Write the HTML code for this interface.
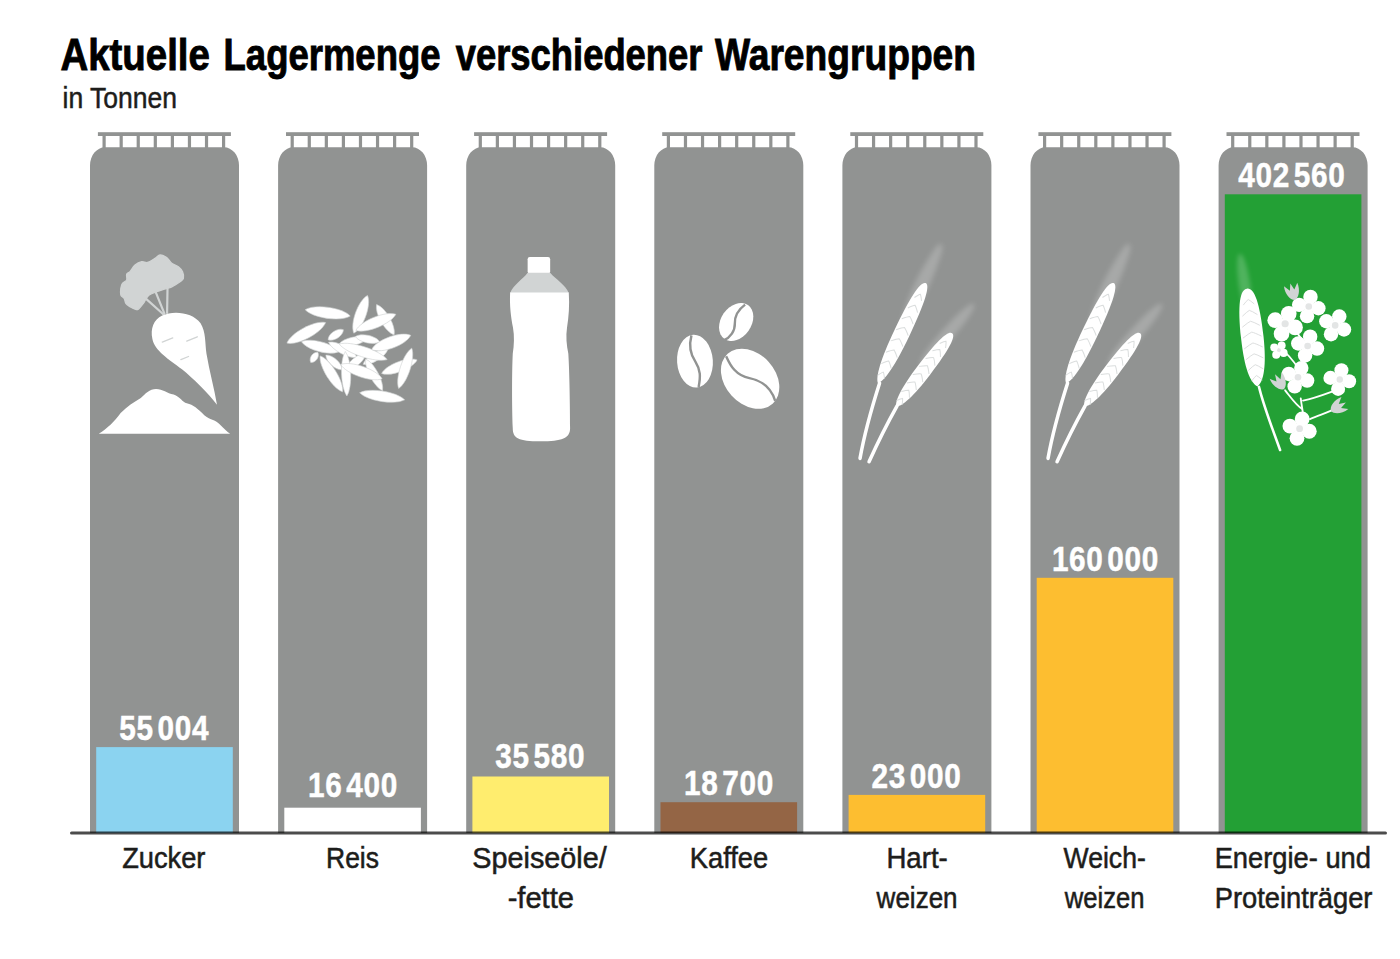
<!DOCTYPE html>
<html><head><meta charset="utf-8"><title>Lagermenge</title>
<style>html,body{margin:0;padding:0;background:#fff;width:1400px;height:959px;overflow:hidden}svg{display:block}text{font-family:"Liberation Sans",sans-serif}</style>
</head><body>
<svg width="1400" height="959" viewBox="0 0 1400 959">
<defs><filter id="blur4" x="-50%" y="-50%" width="200%" height="200%"><feGaussianBlur stdDeviation="10"/></filter></defs>
<rect width="1400" height="959" fill="#fff"/>
<path d="M90.00,833 V165.3 A15,18 0 0 1 105.00,147.3 H224.00 A15,18 0 0 1 239.00,165.3 V833 Z" fill="#919392"/>
<rect x="97.90" y="132.2" width="133" height="3.8" fill="#919392"/>
<rect x="102.50" y="133" width="3.2" height="15" fill="#919392"/>
<rect x="119.57" y="133" width="3.2" height="15" fill="#919392"/>
<rect x="136.64" y="133" width="3.2" height="15" fill="#919392"/>
<rect x="153.71" y="133" width="3.2" height="15" fill="#919392"/>
<rect x="170.78" y="133" width="3.2" height="15" fill="#919392"/>
<rect x="187.85" y="133" width="3.2" height="15" fill="#919392"/>
<rect x="204.92" y="133" width="3.2" height="15" fill="#919392"/>
<rect x="221.99" y="133" width="3.2" height="15" fill="#919392"/>
<rect x="96.20" y="747.1" width="136.6" height="85.90" fill="#8bd3f0"/>
<path d="M278.10,833 V165.3 A15,18 0 0 1 293.10,147.3 H412.10 A15,18 0 0 1 427.10,165.3 V833 Z" fill="#919392"/>
<rect x="286.00" y="132.2" width="133" height="3.8" fill="#919392"/>
<rect x="290.60" y="133" width="3.2" height="15" fill="#919392"/>
<rect x="307.67" y="133" width="3.2" height="15" fill="#919392"/>
<rect x="324.74" y="133" width="3.2" height="15" fill="#919392"/>
<rect x="341.81" y="133" width="3.2" height="15" fill="#919392"/>
<rect x="358.88" y="133" width="3.2" height="15" fill="#919392"/>
<rect x="375.95" y="133" width="3.2" height="15" fill="#919392"/>
<rect x="393.02" y="133" width="3.2" height="15" fill="#919392"/>
<rect x="410.09" y="133" width="3.2" height="15" fill="#919392"/>
<rect x="284.30" y="807.7" width="136.6" height="25.30" fill="#ffffff"/>
<path d="M466.20,833 V165.3 A15,18 0 0 1 481.20,147.3 H600.20 A15,18 0 0 1 615.20,165.3 V833 Z" fill="#919392"/>
<rect x="474.10" y="132.2" width="133" height="3.8" fill="#919392"/>
<rect x="478.70" y="133" width="3.2" height="15" fill="#919392"/>
<rect x="495.77" y="133" width="3.2" height="15" fill="#919392"/>
<rect x="512.84" y="133" width="3.2" height="15" fill="#919392"/>
<rect x="529.91" y="133" width="3.2" height="15" fill="#919392"/>
<rect x="546.98" y="133" width="3.2" height="15" fill="#919392"/>
<rect x="564.05" y="133" width="3.2" height="15" fill="#919392"/>
<rect x="581.12" y="133" width="3.2" height="15" fill="#919392"/>
<rect x="598.19" y="133" width="3.2" height="15" fill="#919392"/>
<rect x="472.40" y="776.5" width="136.6" height="56.50" fill="#ffed6e"/>
<path d="M654.30,833 V165.3 A15,18 0 0 1 669.30,147.3 H788.30 A15,18 0 0 1 803.30,165.3 V833 Z" fill="#919392"/>
<rect x="662.20" y="132.2" width="133" height="3.8" fill="#919392"/>
<rect x="666.80" y="133" width="3.2" height="15" fill="#919392"/>
<rect x="683.87" y="133" width="3.2" height="15" fill="#919392"/>
<rect x="700.94" y="133" width="3.2" height="15" fill="#919392"/>
<rect x="718.01" y="133" width="3.2" height="15" fill="#919392"/>
<rect x="735.08" y="133" width="3.2" height="15" fill="#919392"/>
<rect x="752.15" y="133" width="3.2" height="15" fill="#919392"/>
<rect x="769.22" y="133" width="3.2" height="15" fill="#919392"/>
<rect x="786.29" y="133" width="3.2" height="15" fill="#919392"/>
<rect x="660.50" y="802.2" width="136.6" height="30.80" fill="#946545"/>
<path d="M842.40,833 V165.3 A15,18 0 0 1 857.40,147.3 H976.40 A15,18 0 0 1 991.40,165.3 V833 Z" fill="#919392"/>
<rect x="850.30" y="132.2" width="133" height="3.8" fill="#919392"/>
<rect x="854.90" y="133" width="3.2" height="15" fill="#919392"/>
<rect x="871.97" y="133" width="3.2" height="15" fill="#919392"/>
<rect x="889.04" y="133" width="3.2" height="15" fill="#919392"/>
<rect x="906.11" y="133" width="3.2" height="15" fill="#919392"/>
<rect x="923.18" y="133" width="3.2" height="15" fill="#919392"/>
<rect x="940.25" y="133" width="3.2" height="15" fill="#919392"/>
<rect x="957.32" y="133" width="3.2" height="15" fill="#919392"/>
<rect x="974.39" y="133" width="3.2" height="15" fill="#919392"/>
<rect x="848.60" y="794.9" width="136.6" height="38.10" fill="#fdbe30"/>
<path d="M1030.50,833 V165.3 A15,18 0 0 1 1045.50,147.3 H1164.50 A15,18 0 0 1 1179.50,165.3 V833 Z" fill="#919392"/>
<rect x="1038.40" y="132.2" width="133" height="3.8" fill="#919392"/>
<rect x="1043.00" y="133" width="3.2" height="15" fill="#919392"/>
<rect x="1060.07" y="133" width="3.2" height="15" fill="#919392"/>
<rect x="1077.14" y="133" width="3.2" height="15" fill="#919392"/>
<rect x="1094.21" y="133" width="3.2" height="15" fill="#919392"/>
<rect x="1111.28" y="133" width="3.2" height="15" fill="#919392"/>
<rect x="1128.35" y="133" width="3.2" height="15" fill="#919392"/>
<rect x="1145.42" y="133" width="3.2" height="15" fill="#919392"/>
<rect x="1162.49" y="133" width="3.2" height="15" fill="#919392"/>
<rect x="1036.70" y="577.8" width="136.6" height="255.20" fill="#fdbe30"/>
<path d="M1218.60,833 V165.3 A15,18 0 0 1 1233.60,147.3 H1352.60 A15,18 0 0 1 1367.60,165.3 V833 Z" fill="#919392"/>
<rect x="1226.50" y="132.2" width="133" height="3.8" fill="#919392"/>
<rect x="1231.10" y="133" width="3.2" height="15" fill="#919392"/>
<rect x="1248.17" y="133" width="3.2" height="15" fill="#919392"/>
<rect x="1265.24" y="133" width="3.2" height="15" fill="#919392"/>
<rect x="1282.31" y="133" width="3.2" height="15" fill="#919392"/>
<rect x="1299.38" y="133" width="3.2" height="15" fill="#919392"/>
<rect x="1316.45" y="133" width="3.2" height="15" fill="#919392"/>
<rect x="1333.52" y="133" width="3.2" height="15" fill="#919392"/>
<rect x="1350.59" y="133" width="3.2" height="15" fill="#919392"/>
<rect x="1224.80" y="194.3" width="136.6" height="638.70" fill="#23a035"/>
<g transform="translate(90,240) scale(0.21896)">
<path d="M140.8,220.9 C142.1,212.0 144.0,204.3 148.4,198.0 C152.8,191.7 164.3,189.8 167.5,182.8 C170.7,175.8 165.0,162.4 167.5,156.1 C170.0,149.8 176.3,151.7 182.7,144.7 C189.0,137.7 196.7,121.8 205.6,114.2 C214.5,106.6 226.5,100.9 236.0,99.0 C245.5,97.1 252.5,105.3 262.7,102.8 C272.9,100.2 287.5,89.4 297.0,83.7 C306.5,78.0 310.9,69.1 319.8,68.5 C328.7,67.9 341.4,73.6 350.3,79.9 C359.2,86.2 364.3,99.6 373.2,106.6 C382.1,113.6 395.4,115.5 403.6,121.8 C411.9,128.2 418.9,135.8 422.7,144.7 C426.5,153.6 428.4,167.6 426.5,175.2 C424.6,182.8 418.8,184.7 411.2,190.4 C403.6,196.1 388.4,205.0 380.8,209.4 C373.2,213.8 372.5,214.6 365.5,217.1 C358.5,219.6 349.0,221.5 338.9,224.7 C328.8,227.9 316.0,231.7 304.6,236.1 C293.2,240.5 278.6,245.6 270.3,251.3 C262.1,257.0 259.5,264.0 255.1,270.4 C250.7,276.8 249.4,281.8 243.7,289.4 C238.0,297.0 227.2,311.7 220.8,316.1 C214.5,320.6 211.9,318.0 205.6,316.1 C199.2,314.2 189.7,309.1 182.7,304.7 C175.7,300.2 168.1,295.8 163.7,289.4 C159.3,283.0 159.9,273.0 156.1,266.6 C152.3,260.2 143.4,258.9 140.8,251.3 C138.2,243.7 139.5,229.8 140.8,220.9 Z" fill="#d1d4d4" stroke="#d1d4d4" stroke-width="6" stroke-linejoin="round"/>
<line x1="255" y1="268" x2="336" y2="340" stroke="#d1d4d4" stroke-width="10" stroke-linecap="round"/>
<line x1="301" y1="240" x2="340" y2="336" stroke="#d1d4d4" stroke-width="10" stroke-linecap="round"/>
<line x1="354" y1="222" x2="352" y2="333" stroke="#d1d4d4" stroke-width="10" stroke-linecap="round"/>
<path d="M330,345 C380,320 470,330 505,380 C530,420 525,470 532,520 C545,600 568,680 580,752 C540,700 470,630 420,590 C360,545 295,505 285,452 C275,405 290,365 330,345 Z" fill="#fff"/>
<line x1="330" y1="466" x2="378" y2="447" stroke="#d1d4d4" stroke-width="6" stroke-linecap="round"/>
<line x1="442" y1="462" x2="490" y2="442" stroke="#d1d4d4" stroke-width="6" stroke-linecap="round"/>
<line x1="415" y1="546" x2="450" y2="532" stroke="#d1d4d4" stroke-width="6" stroke-linecap="round"/>
<path d="M40,885 C80,860 110,830 140,790 C170,760 200,742 232,722 C252,702 272,680 302,680 C332,680 352,700 382,706 C412,716 422,742 442,746 C472,752 492,772 522,800 C547,822 572,818 592,842 C612,862 625,875 640,885 Z" fill="#fff"/>
</g>
<g transform="translate(280,280) scale(0.14592)">
<path d="M-150.0,0 C-93.0,-50.4 93.0,-50.4 150.0,0 C93.0,50.4 -93.0,50.4 -150.0,0 Z" transform="translate(180,362) rotate(-28)" fill="#fff" stroke="#d1d4d4" stroke-width="4"/>
<path d="M-156.0,0 C-96.7,-50.4 96.7,-50.4 156.0,0 C96.7,50.4 -96.7,50.4 -156.0,0 Z" transform="translate(327,225) rotate(8)" fill="#fff" stroke="#d1d4d4" stroke-width="4"/>
<path d="M-120.0,0 C-74.4,-43.2 74.4,-43.2 120.0,0 C74.4,43.2 -74.4,43.2 -120.0,0 Z" transform="translate(722,272) rotate(60)" fill="#fff" stroke="#d1d4d4" stroke-width="4"/>
<path d="M-137.5,0 C-85.2,-49.2 85.2,-49.2 137.5,0 C85.2,49.2 -85.2,49.2 -137.5,0 Z" transform="translate(553,235) rotate(-70)" fill="#fff" stroke="#d1d4d4" stroke-width="4"/>
<path d="M-147.5,0 C-91.5,-49.2 91.5,-49.2 147.5,0 C91.5,49.2 -91.5,49.2 -147.5,0 Z" transform="translate(657,290) rotate(-22)" fill="#fff" stroke="#d1d4d4" stroke-width="4"/>
<path d="M-62.5,0 C-38.8,-34.8 38.8,-34.8 62.5,0 C38.8,34.8 -38.8,34.8 -62.5,0 Z" transform="translate(382,375) rotate(-33)" fill="#fff" stroke="#d1d4d4" stroke-width="4"/>
<path d="M-132.5,0 C-82.2,-45.6 82.2,-45.6 132.5,0 C82.2,45.6 -82.2,45.6 -132.5,0 Z" transform="translate(275,457) rotate(15)" fill="#fff" stroke="#d1d4d4" stroke-width="4"/>
<path d="M-42.5,0 C-26.4,-30.0 26.4,-30.0 42.5,0 C26.4,30.0 -26.4,30.0 -42.5,0 Z" transform="translate(235,530) rotate(-55)" fill="#fff" stroke="#d1d4d4" stroke-width="4"/>
<path d="M-100.0,0 C-62.0,-37.2 62.0,-37.2 100.0,0 C62.0,37.2 -62.0,37.2 -100.0,0 Z" transform="translate(500,420) rotate(-12)" fill="#fff" stroke="#d1d4d4" stroke-width="4"/>
<path d="M-85.0,0 C-52.7,-34.8 52.7,-34.8 85.0,0 C52.7,34.8 -52.7,34.8 -85.0,0 Z" transform="translate(600,405) rotate(12)" fill="#fff" stroke="#d1d4d4" stroke-width="4"/>
<path d="M-110.0,0 C-68.2,-37.2 68.2,-37.2 110.0,0 C68.2,37.2 -68.2,37.2 -110.0,0 Z" transform="translate(430,478) rotate(28)" fill="#fff" stroke="#d1d4d4" stroke-width="4"/>
<path d="M-100.0,0 C-62.0,-37.2 62.0,-37.2 100.0,0 C62.0,37.2 -62.0,37.2 -100.0,0 Z" transform="translate(655,525) rotate(-32)" fill="#fff" stroke="#d1d4d4" stroke-width="4"/>
<path d="M-75.0,0 C-46.5,-33.6 46.5,-33.6 75.0,0 C46.5,33.6 -46.5,33.6 -75.0,0 Z" transform="translate(370,565) rotate(42)" fill="#fff" stroke="#d1d4d4" stroke-width="4"/>
<path d="M-90.0,0 C-55.8,-36.0 55.8,-36.0 90.0,0 C55.8,36.0 -55.8,36.0 -90.0,0 Z" transform="translate(520,560) rotate(-40)" fill="#fff" stroke="#d1d4d4" stroke-width="4"/>
<path d="M-172.5,0 C-107.0,-46.8 107.0,-46.8 172.5,0 C107.0,46.8 -107.0,46.8 -172.5,0 Z" transform="translate(570,492) rotate(18)" fill="#fff" stroke="#d1d4d4" stroke-width="4"/>
<path d="M-142.5,0 C-88.3,-52.8 88.3,-52.8 142.5,0 C88.3,52.8 -88.3,52.8 -142.5,0 Z" transform="translate(762,428) rotate(-20)" fill="#fff" stroke="#d1d4d4" stroke-width="4"/>
<path d="M-145.0,0 C-89.9,-46.8 89.9,-46.8 145.0,0 C89.9,46.8 -89.9,46.8 -145.0,0 Z" transform="translate(352,643) rotate(58)" fill="#fff" stroke="#d1d4d4" stroke-width="4"/>
<path d="M-152.5,0 C-94.5,-42.0 94.5,-42.0 152.5,0 C94.5,42.0 -94.5,42.0 -152.5,0 Z" transform="translate(453,642) rotate(88)" fill="#fff" stroke="#d1d4d4" stroke-width="4"/>
<path d="M-122.5,0 C-76.0,-39.6 76.0,-39.6 122.5,0 C76.0,39.6 -76.0,39.6 -122.5,0 Z" transform="translate(645,650) rotate(62)" fill="#fff" stroke="#d1d4d4" stroke-width="4"/>
<path d="M-150.0,0 C-93.0,-49.2 93.0,-49.2 150.0,0 C93.0,49.2 -93.0,49.2 -150.0,0 Z" transform="translate(558,628) rotate(19)" fill="#fff" stroke="#d1d4d4" stroke-width="4"/>
<path d="M-130.0,0 C-80.6,-45.6 80.6,-45.6 130.0,0 C80.6,45.6 -80.6,45.6 -130.0,0 Z" transform="translate(818,594) rotate(-21)" fill="#fff" stroke="#d1d4d4" stroke-width="4"/>
<path d="M-145.0,0 C-89.9,-45.6 89.9,-45.6 145.0,0 C89.9,45.6 -89.9,45.6 -145.0,0 Z" transform="translate(858,605) rotate(-72)" fill="#fff" stroke="#d1d4d4" stroke-width="4"/>
<path d="M-156.0,0 C-96.7,-48.0 96.7,-48.0 156.0,0 C96.7,48.0 -96.7,48.0 -156.0,0 Z" transform="translate(700,797) rotate(9)" fill="#fff" stroke="#d1d4d4" stroke-width="4"/>
</g>
<g transform="translate(490,240) scale(0.21882)">
<rect x="172" y="78" width="103" height="76" rx="10" fill="#fff"/>
<path d="M172,150 H275 C300,180 345,205 360,242 H92 C107,205 150,180 172,150 Z" fill="#d1d4d4"/>
<path d="M92,240 H360 C364,300 360,350 352,400 C346,440 350,480 358,520 C363,600 366,750 366,860 C366,905 330,920 230,920 C130,920 104,905 104,860 C100,750 100,600 104,520 C110,480 112,440 105,400 C95,350 89,300 92,240 Z" fill="#fff"/>
</g>
<g transform="translate(660,290) scale(0.13552)">
<ellipse cx="0" cy="0" rx="112" ry="152" transform="translate(562,236) rotate(35)" fill="#fff"/>
<path d="M628,108 C570,150 550,200 552,250 C554,300 520,350 470,372" fill="none" stroke="#919392" stroke-width="18"/>
<ellipse cx="0" cy="0" rx="132" ry="195" transform="translate(258,525) rotate(-4)" fill="#fff"/>
<path d="M232,335 C215,400 220,470 262,530 C300,590 300,640 285,715" fill="none" stroke="#919392" stroke-width="18"/>
<ellipse cx="0" cy="0" rx="185" ry="248" transform="translate(665,655) rotate(-42)" fill="#fff"/>
<path d="M488,488 C520,560 560,630 660,650 C760,670 820,720 850,818" fill="none" stroke="#919392" stroke-width="18"/>
</g>
<g transform="translate(845,230) scale(0.25044)">
<g transform="translate(230,380) rotate(-64.50)" opacity="0.2" filter="url(#blur4)"><ellipse cx="180.0" cy="0" rx="180.0" ry="27.5" fill="#fff"/></g>
<g transform="translate(300,540) rotate(-48.73)" opacity="0.2" filter="url(#blur4)"><ellipse cx="163.0" cy="0" rx="163.0" ry="25.0" fill="#fff"/></g>
<path d="M138,612 C110,700 80,800 60,912" fill="none" stroke="#fff" stroke-width="14" stroke-linecap="round"/>
<path d="M208,702 C170,770 130,850 96,925" fill="none" stroke="#fff" stroke-width="14" stroke-linecap="round"/>
<g transform="translate(132,612) rotate(-64.59)"><path d="M0,0 C17.7,-19.2 88.6,-32.0 221.4,-32.0 C376.4,-32.0 442.8,-20.5 442.8,0 C442.8,20.5 376.4,32.0 221.4,32.0 C88.6,32.0 17.7,19.2 0,0 Z" fill="#fff"/><path d="M27.2,-15.7 Q45.2,-4.7 49.2,0 Q45.2,4.7 27.2,15.7" fill="none" stroke="#d1d4d4" stroke-width="4" opacity="0.8"/><path d="M76.4,-21.6 Q94.4,-6.5 98.4,0 Q94.4,6.5 76.4,21.6" fill="none" stroke="#d1d4d4" stroke-width="4" opacity="0.8"/><path d="M125.6,-25.0 Q143.6,-7.5 147.6,0 Q143.6,7.5 125.6,25.0" fill="none" stroke="#d1d4d4" stroke-width="4" opacity="0.8"/><path d="M174.8,-26.7 Q192.8,-8.0 196.8,0 Q192.8,8.0 174.8,26.7" fill="none" stroke="#d1d4d4" stroke-width="4" opacity="0.8"/><path d="M224.0,-26.7 Q242.0,-8.0 246.0,0 Q242.0,8.0 224.0,26.7" fill="none" stroke="#d1d4d4" stroke-width="4" opacity="0.8"/><path d="M273.2,-25.0 Q291.2,-7.5 295.2,0 Q291.2,7.5 273.2,25.0" fill="none" stroke="#d1d4d4" stroke-width="4" opacity="0.8"/><path d="M322.4,-21.6 Q340.4,-6.5 344.4,0 Q340.4,6.5 322.4,21.6" fill="none" stroke="#d1d4d4" stroke-width="4" opacity="0.8"/><path d="M371.6,-15.7 Q389.6,-4.7 393.6,0 Q389.6,4.7 371.6,15.7" fill="none" stroke="#d1d4d4" stroke-width="4" opacity="0.8"/></g>
<g transform="translate(205,705) rotate(-52.73)"><path d="M0,0 C14.7,-18.0 73.6,-30.0 184.1,-30.0 C313.0,-30.0 368.2,-19.2 368.2,0 C368.2,19.2 313.0,30.0 184.1,30.0 C73.6,30.0 14.7,18.0 0,0 Z" fill="#fff"/><path d="M18.9,-14.7 Q36.9,-4.4 40.9,0 Q36.9,4.4 18.9,14.7" fill="none" stroke="#d1d4d4" stroke-width="4" opacity="0.8"/><path d="M59.8,-20.2 Q77.8,-6.1 81.8,0 Q77.8,6.1 59.8,20.2" fill="none" stroke="#d1d4d4" stroke-width="4" opacity="0.8"/><path d="M100.7,-23.5 Q118.7,-7.0 122.7,0 Q118.7,7.0 100.7,23.5" fill="none" stroke="#d1d4d4" stroke-width="4" opacity="0.8"/><path d="M141.6,-25.0 Q159.6,-7.5 163.6,0 Q159.6,7.5 141.6,25.0" fill="none" stroke="#d1d4d4" stroke-width="4" opacity="0.8"/><path d="M182.6,-25.0 Q200.6,-7.5 204.6,0 Q200.6,7.5 182.6,25.0" fill="none" stroke="#d1d4d4" stroke-width="4" opacity="0.8"/><path d="M223.5,-23.5 Q241.5,-7.0 245.5,0 Q241.5,7.0 223.5,23.5" fill="none" stroke="#d1d4d4" stroke-width="4" opacity="0.8"/><path d="M264.4,-20.2 Q282.4,-6.1 286.4,0 Q282.4,6.1 264.4,20.2" fill="none" stroke="#d1d4d4" stroke-width="4" opacity="0.8"/><path d="M305.3,-14.7 Q323.3,-4.4 327.3,0 Q323.3,4.4 305.3,14.7" fill="none" stroke="#d1d4d4" stroke-width="4" opacity="0.8"/></g>
</g>
<g transform="translate(1033,230) scale(0.25044)">
<g transform="translate(230,380) rotate(-64.50)" opacity="0.2" filter="url(#blur4)"><ellipse cx="180.0" cy="0" rx="180.0" ry="27.5" fill="#fff"/></g>
<g transform="translate(300,540) rotate(-48.73)" opacity="0.2" filter="url(#blur4)"><ellipse cx="163.0" cy="0" rx="163.0" ry="25.0" fill="#fff"/></g>
<path d="M138,612 C110,700 80,800 60,912" fill="none" stroke="#fff" stroke-width="14" stroke-linecap="round"/>
<path d="M208,702 C170,770 130,850 96,925" fill="none" stroke="#fff" stroke-width="14" stroke-linecap="round"/>
<g transform="translate(132,612) rotate(-64.59)"><path d="M0,0 C17.7,-19.2 88.6,-32.0 221.4,-32.0 C376.4,-32.0 442.8,-20.5 442.8,0 C442.8,20.5 376.4,32.0 221.4,32.0 C88.6,32.0 17.7,19.2 0,0 Z" fill="#fff"/><path d="M27.2,-15.7 Q45.2,-4.7 49.2,0 Q45.2,4.7 27.2,15.7" fill="none" stroke="#d1d4d4" stroke-width="4" opacity="0.8"/><path d="M76.4,-21.6 Q94.4,-6.5 98.4,0 Q94.4,6.5 76.4,21.6" fill="none" stroke="#d1d4d4" stroke-width="4" opacity="0.8"/><path d="M125.6,-25.0 Q143.6,-7.5 147.6,0 Q143.6,7.5 125.6,25.0" fill="none" stroke="#d1d4d4" stroke-width="4" opacity="0.8"/><path d="M174.8,-26.7 Q192.8,-8.0 196.8,0 Q192.8,8.0 174.8,26.7" fill="none" stroke="#d1d4d4" stroke-width="4" opacity="0.8"/><path d="M224.0,-26.7 Q242.0,-8.0 246.0,0 Q242.0,8.0 224.0,26.7" fill="none" stroke="#d1d4d4" stroke-width="4" opacity="0.8"/><path d="M273.2,-25.0 Q291.2,-7.5 295.2,0 Q291.2,7.5 273.2,25.0" fill="none" stroke="#d1d4d4" stroke-width="4" opacity="0.8"/><path d="M322.4,-21.6 Q340.4,-6.5 344.4,0 Q340.4,6.5 322.4,21.6" fill="none" stroke="#d1d4d4" stroke-width="4" opacity="0.8"/><path d="M371.6,-15.7 Q389.6,-4.7 393.6,0 Q389.6,4.7 371.6,15.7" fill="none" stroke="#d1d4d4" stroke-width="4" opacity="0.8"/></g>
<g transform="translate(205,705) rotate(-52.73)"><path d="M0,0 C14.7,-18.0 73.6,-30.0 184.1,-30.0 C313.0,-30.0 368.2,-19.2 368.2,0 C368.2,19.2 313.0,30.0 184.1,30.0 C73.6,30.0 14.7,18.0 0,0 Z" fill="#fff"/><path d="M18.9,-14.7 Q36.9,-4.4 40.9,0 Q36.9,4.4 18.9,14.7" fill="none" stroke="#d1d4d4" stroke-width="4" opacity="0.8"/><path d="M59.8,-20.2 Q77.8,-6.1 81.8,0 Q77.8,6.1 59.8,20.2" fill="none" stroke="#d1d4d4" stroke-width="4" opacity="0.8"/><path d="M100.7,-23.5 Q118.7,-7.0 122.7,0 Q118.7,7.0 100.7,23.5" fill="none" stroke="#d1d4d4" stroke-width="4" opacity="0.8"/><path d="M141.6,-25.0 Q159.6,-7.5 163.6,0 Q159.6,7.5 141.6,25.0" fill="none" stroke="#d1d4d4" stroke-width="4" opacity="0.8"/><path d="M182.6,-25.0 Q200.6,-7.5 204.6,0 Q200.6,7.5 182.6,25.0" fill="none" stroke="#d1d4d4" stroke-width="4" opacity="0.8"/><path d="M223.5,-23.5 Q241.5,-7.0 245.5,0 Q241.5,7.0 223.5,23.5" fill="none" stroke="#d1d4d4" stroke-width="4" opacity="0.8"/><path d="M264.4,-20.2 Q282.4,-6.1 286.4,0 Q282.4,6.1 264.4,20.2" fill="none" stroke="#d1d4d4" stroke-width="4" opacity="0.8"/><path d="M305.3,-14.7 Q323.3,-4.4 327.3,0 Q323.3,4.4 305.3,14.7" fill="none" stroke="#d1d4d4" stroke-width="4" opacity="0.8"/></g>
</g>
<g transform="translate(1225,240) scale(0.22952)">
<g transform="translate(105,330) rotate(-98.43)" opacity="0.2" filter="url(#blur4)"><ellipse cx="136.5" cy="0" rx="136.5" ry="25.0" fill="#fff"/></g>
<path d="M148,640 C170,730 210,830 240,915" fill="none" stroke="#fff" stroke-width="11" stroke-linecap="round"/>
<g transform="translate(142,638) rotate(-96.16)"><path d="M0,0 C17.1,-29.4 85.7,-49.0 214.2,-49.0 C364.2,-49.0 428.5,-31.4 428.5,0 C428.5,31.4 364.2,49.0 214.2,49.0 C85.7,49.0 17.1,29.4 0,0 Z" fill="#fff"/><path d="M25.6,-24.1 Q43.6,-7.2 47.6,0 Q43.6,7.2 25.6,24.1" fill="none" stroke="#d1d4d4" stroke-width="4" opacity="0.8"/><path d="M73.2,-33.0 Q91.2,-9.9 95.2,0 Q91.2,9.9 73.2,33.0" fill="none" stroke="#d1d4d4" stroke-width="4" opacity="0.8"/><path d="M120.8,-38.3 Q138.8,-11.5 142.8,0 Q138.8,11.5 120.8,38.3" fill="none" stroke="#d1d4d4" stroke-width="4" opacity="0.8"/><path d="M168.4,-40.8 Q186.4,-12.3 190.4,0 Q186.4,12.3 168.4,40.8" fill="none" stroke="#d1d4d4" stroke-width="4" opacity="0.8"/><path d="M216.0,-40.8 Q234.0,-12.3 238.0,0 Q234.0,12.3 216.0,40.8" fill="none" stroke="#d1d4d4" stroke-width="4" opacity="0.8"/><path d="M263.7,-38.3 Q281.7,-11.5 285.7,0 Q281.7,11.5 263.7,38.3" fill="none" stroke="#d1d4d4" stroke-width="4" opacity="0.8"/><path d="M311.3,-33.0 Q329.3,-9.9 333.3,0 Q329.3,9.9 311.3,33.0" fill="none" stroke="#d1d4d4" stroke-width="4" opacity="0.8"/><path d="M358.9,-24.1 Q376.9,-7.2 380.9,0 Q376.9,7.2 358.9,24.1" fill="none" stroke="#d1d4d4" stroke-width="4" opacity="0.8"/></g>
<path d="M330,690 C335,730 342,760 345,800" fill="none" stroke="#fff" stroke-width="8" stroke-linecap="round"/>
<path d="M262,655 C290,690 310,720 335,735" fill="none" stroke="#fff" stroke-width="8" stroke-linecap="round"/>
<path d="M340,700 C390,690 440,670 495,650" fill="none" stroke="#fff" stroke-width="8" stroke-linecap="round"/>
<path d="M370,780 C420,760 460,745 495,730" fill="none" stroke="#fff" stroke-width="8" stroke-linecap="round"/>
<path d="M240,470 C280,500 300,530 320,560" fill="none" stroke="#fff" stroke-width="8" stroke-linecap="round"/>
<path d="M300,380 C320,420 340,440 360,460" fill="none" stroke="#fff" stroke-width="8" stroke-linecap="round"/>
<circle cx="305.2" cy="380.7" r="34.1" fill="#fff"/><circle cx="283.6" cy="372.9" r="18.4" fill="#fff"/><circle cx="246.3" cy="408.2" r="34.1" fill="#fff"/><circle cx="254.1" cy="386.6" r="18.4" fill="#fff"/><circle cx="218.8" cy="349.3" r="34.1" fill="#fff"/><circle cx="240.4" cy="357.1" r="18.4" fill="#fff"/><circle cx="277.7" cy="321.8" r="34.1" fill="#fff"/><circle cx="269.9" cy="343.4" r="18.4" fill="#fff"/><circle cx="262" cy="365" r="15.6" fill="#e3e5e5"/>
<circle cx="406.8" cy="297.4" r="31.4" fill="#fff"/><circle cx="385.9" cy="293.7" r="17.0" fill="#fff"/><circle cx="357.6" cy="331.8" r="31.4" fill="#fff"/><circle cx="361.3" cy="310.9" r="17.0" fill="#fff"/><circle cx="323.2" cy="282.6" r="31.4" fill="#fff"/><circle cx="344.1" cy="286.3" r="17.0" fill="#fff"/><circle cx="372.4" cy="248.2" r="31.4" fill="#fff"/><circle cx="368.7" cy="269.1" r="17.0" fill="#fff"/><circle cx="365" cy="290" r="14.4" fill="#e3e5e5"/>
<circle cx="518.5" cy="390.0" r="31.4" fill="#fff"/><circle cx="499.2" cy="381.0" r="17.0" fill="#fff"/><circle cx="462.0" cy="410.5" r="31.4" fill="#fff"/><circle cx="471.0" cy="391.2" r="17.0" fill="#fff"/><circle cx="441.5" cy="354.0" r="31.4" fill="#fff"/><circle cx="460.8" cy="363.0" r="17.0" fill="#fff"/><circle cx="498.0" cy="333.5" r="31.4" fill="#fff"/><circle cx="489.0" cy="352.8" r="17.0" fill="#fff"/><circle cx="480" cy="372" r="14.4" fill="#e3e5e5"/>
<circle cx="401.0" cy="473.0" r="31.4" fill="#fff"/><circle cx="380.5" cy="467.5" r="17.0" fill="#fff"/><circle cx="349.0" cy="503.0" r="31.4" fill="#fff"/><circle cx="354.5" cy="482.5" r="17.0" fill="#fff"/><circle cx="319.0" cy="451.0" r="31.4" fill="#fff"/><circle cx="339.5" cy="456.5" r="17.0" fill="#fff"/><circle cx="371.0" cy="421.0" r="31.4" fill="#fff"/><circle cx="365.5" cy="441.5" r="17.0" fill="#fff"/><circle cx="360" cy="462" r="14.4" fill="#e3e5e5"/>
<circle cx="357.9" cy="612.5" r="31.4" fill="#fff"/><circle cx="338.0" cy="605.3" r="17.0" fill="#fff"/><circle cx="303.5" cy="637.9" r="31.4" fill="#fff"/><circle cx="310.7" cy="618.0" r="17.0" fill="#fff"/><circle cx="278.1" cy="583.5" r="31.4" fill="#fff"/><circle cx="298.0" cy="590.7" r="17.0" fill="#fff"/><circle cx="332.5" cy="558.1" r="31.4" fill="#fff"/><circle cx="325.3" cy="578.0" r="17.0" fill="#fff"/><circle cx="318" cy="598" r="14.4" fill="#e3e5e5"/>
<circle cx="540.7" cy="615.2" r="30.6" fill="#fff"/><circle cx="520.3" cy="611.6" r="16.5" fill="#fff"/><circle cx="492.8" cy="648.7" r="30.6" fill="#fff"/><circle cx="496.4" cy="628.3" r="16.5" fill="#fff"/><circle cx="459.3" cy="600.8" r="30.6" fill="#fff"/><circle cx="479.7" cy="604.4" r="16.5" fill="#fff"/><circle cx="507.2" cy="567.3" r="30.6" fill="#fff"/><circle cx="503.6" cy="587.7" r="16.5" fill="#fff"/><circle cx="500" cy="608" r="14.0" fill="#e3e5e5"/>
<circle cx="367.2" cy="833.3" r="32.3" fill="#fff"/><circle cx="346.1" cy="827.7" r="17.5" fill="#fff"/><circle cx="313.7" cy="864.2" r="32.3" fill="#fff"/><circle cx="319.3" cy="843.1" r="17.5" fill="#fff"/><circle cx="282.8" cy="810.7" r="32.3" fill="#fff"/><circle cx="303.9" cy="816.3" r="17.5" fill="#fff"/><circle cx="336.3" cy="779.8" r="32.3" fill="#fff"/><circle cx="330.7" cy="800.9" r="17.5" fill="#fff"/><circle cx="325" cy="822" r="14.8" fill="#e3e5e5"/>
<circle cx="255.4" cy="491.8" r="17.5" fill="#fff"/><circle cx="245.2" cy="485.9" r="9.4" fill="#fff"/><circle cx="223.2" cy="500.4" r="17.5" fill="#fff"/><circle cx="229.1" cy="490.2" r="9.4" fill="#fff"/><circle cx="214.6" cy="468.2" r="17.5" fill="#fff"/><circle cx="224.8" cy="474.1" r="9.4" fill="#fff"/><circle cx="246.8" cy="459.6" r="17.5" fill="#fff"/><circle cx="240.9" cy="469.8" r="9.4" fill="#fff"/><circle cx="235" cy="480" r="8.0" fill="#e3e5e5"/>
<g transform="translate(295,228) rotate(-15) scale(1)"><path d="M-30,-35 L-10,-10 L0,-40 L10,-10 L30,-35 C35,0 20,30 0,35 C-20,30 -35,0 -30,-35 Z" fill="#d1d4d4"/></g>
<g transform="translate(238,620) rotate(-30) scale(1)"><path d="M-30,-35 L-10,-10 L0,-40 L10,-10 L30,-35 C35,0 20,30 0,35 C-20,30 -35,0 -30,-35 Z" fill="#d1d4d4"/></g>
<g transform="translate(492,728) rotate(60) scale(1)"><path d="M-30,-35 L-10,-10 L0,-40 L10,-10 L30,-35 C35,0 20,30 0,35 C-20,30 -35,0 -30,-35 Z" fill="#d1d4d4"/></g>
</g>
<line x1="71.5" y1="833.1" x2="1385.5" y2="833.1" stroke="rgba(0,0,0,0.7)" stroke-width="3" stroke-linecap="round"/>
<text x="135.15" y="70" text-anchor="middle" font-family="Liberation Sans" font-weight="bold" font-size="43.5" fill="#000" stroke="#000" stroke-width="0.9" textLength="149.4" lengthAdjust="spacingAndGlyphs">Aktuelle</text>
<text x="332.05" y="70" text-anchor="middle" font-family="Liberation Sans" font-weight="bold" font-size="43.5" fill="#000" stroke="#000" stroke-width="0.9" textLength="217.0" lengthAdjust="spacingAndGlyphs">Lagermenge</text>
<text x="579.10" y="70" text-anchor="middle" font-family="Liberation Sans" font-weight="bold" font-size="43.5" fill="#000" stroke="#000" stroke-width="0.9" textLength="246.8" lengthAdjust="spacingAndGlyphs">verschiedener</text>
<text x="845.50" y="70" text-anchor="middle" font-family="Liberation Sans" font-weight="bold" font-size="43.5" fill="#000" stroke="#000" stroke-width="0.9" textLength="261.0" lengthAdjust="spacingAndGlyphs">Warengruppen</text>
<text x="62.5" y="108" font-family="Liberation Sans" font-size="30" fill="#1d1d1b" stroke="#1d1d1b" stroke-width="0.5" textLength="114.5" lengthAdjust="spacingAndGlyphs">in Tonnen</text>
<text transform="translate(164.30,739.70) scale(0.85,1)" text-anchor="middle" letter-spacing="0.8" font-family="Liberation Sans" font-weight="bold" font-size="35" fill="#fff" stroke="#fff" stroke-width="0.5">55<tspan dx="4.5">004</tspan></text>
<text transform="translate(353.00,797.40) scale(0.85,1)" text-anchor="middle" letter-spacing="0.8" font-family="Liberation Sans" font-weight="bold" font-size="35" fill="#fff" stroke="#fff" stroke-width="0.5">16<tspan dx="4.5">400</tspan></text>
<text transform="translate(540.25,767.80) scale(0.85,1)" text-anchor="middle" letter-spacing="0.8" font-family="Liberation Sans" font-weight="bold" font-size="35" fill="#fff" stroke="#fff" stroke-width="0.5">35<tspan dx="4.5">580</tspan></text>
<text transform="translate(729.05,794.90) scale(0.85,1)" text-anchor="middle" letter-spacing="0.8" font-family="Liberation Sans" font-weight="bold" font-size="35" fill="#fff" stroke="#fff" stroke-width="0.5">18<tspan dx="4.5">700</tspan></text>
<text transform="translate(916.45,787.80) scale(0.85,1)" text-anchor="middle" letter-spacing="0.8" font-family="Liberation Sans" font-weight="bold" font-size="35" fill="#fff" stroke="#fff" stroke-width="0.5">23<tspan dx="4.5">000</tspan></text>
<text transform="translate(1105.45,570.70) scale(0.85,1)" text-anchor="middle" letter-spacing="0.8" font-family="Liberation Sans" font-weight="bold" font-size="35" fill="#fff" stroke="#fff" stroke-width="0.5">160<tspan dx="4.5">000</tspan></text>
<text transform="translate(1291.85,186.60) scale(0.85,1)" text-anchor="middle" letter-spacing="0.8" font-family="Liberation Sans" font-weight="bold" font-size="35" fill="#fff" stroke="#fff" stroke-width="0.5">402<tspan dx="4.5">560</tspan></text>
<text x="163.8" y="867.9" text-anchor="middle" font-family="Liberation Sans" font-size="30" fill="#1d1d1b" stroke="#1d1d1b" stroke-width="0.55" textLength="83.3" lengthAdjust="spacingAndGlyphs">Zucker</text>
<text x="352.5" y="867.9" text-anchor="middle" font-family="Liberation Sans" font-size="30" fill="#1d1d1b" stroke="#1d1d1b" stroke-width="0.55" textLength="53.0" lengthAdjust="spacingAndGlyphs">Reis</text>
<text x="539.5" y="867.9" text-anchor="middle" font-family="Liberation Sans" font-size="30" fill="#1d1d1b" stroke="#1d1d1b" stroke-width="0.55" textLength="134.3" lengthAdjust="spacingAndGlyphs">Speiseöle/</text>
<text x="540.8" y="907.9" text-anchor="middle" font-family="Liberation Sans" font-size="30" fill="#1d1d1b" stroke="#1d1d1b" stroke-width="0.55" textLength="66.3" lengthAdjust="spacingAndGlyphs">-fette</text>
<text x="729.0" y="867.9" text-anchor="middle" font-family="Liberation Sans" font-size="30" fill="#1d1d1b" stroke="#1d1d1b" stroke-width="0.55" textLength="78.5" lengthAdjust="spacingAndGlyphs">Kaffee</text>
<text x="917.1" y="867.9" text-anchor="middle" font-family="Liberation Sans" font-size="30" fill="#1d1d1b" stroke="#1d1d1b" stroke-width="0.55" textLength="61.4" lengthAdjust="spacingAndGlyphs">Hart-</text>
<text x="917.1" y="907.9" text-anchor="middle" font-family="Liberation Sans" font-size="30" fill="#1d1d1b" stroke="#1d1d1b" stroke-width="0.55" textLength="81.0" lengthAdjust="spacingAndGlyphs">weizen</text>
<text x="1104.7" y="867.9" text-anchor="middle" font-family="Liberation Sans" font-size="30" fill="#1d1d1b" stroke="#1d1d1b" stroke-width="0.55" textLength="82.2" lengthAdjust="spacingAndGlyphs">Weich-</text>
<text x="1104.7" y="907.9" text-anchor="middle" font-family="Liberation Sans" font-size="30" fill="#1d1d1b" stroke="#1d1d1b" stroke-width="0.55" textLength="79.7" lengthAdjust="spacingAndGlyphs">weizen</text>
<text x="1292.8" y="867.9" text-anchor="middle" font-family="Liberation Sans" font-size="30" fill="#1d1d1b" stroke="#1d1d1b" stroke-width="0.55" textLength="156.3" lengthAdjust="spacingAndGlyphs">Energie- und</text>
<text x="1293.6" y="907.9" text-anchor="middle" font-family="Liberation Sans" font-size="30" fill="#1d1d1b" stroke="#1d1d1b" stroke-width="0.55" textLength="157.7" lengthAdjust="spacingAndGlyphs">Proteinträger</text>
</svg>
</body></html>
